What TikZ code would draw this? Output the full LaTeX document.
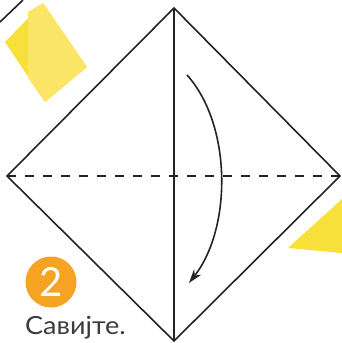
\documentclass[tikz,border=0pt]{standalone}
\usepackage{fontspec}
\setmainfont{Lato}
\newfontfamily\labelfont[FakeStretch=1.08]{Lato}
\usetikzlibrary{arrows.meta}
\definecolor{ink}{HTML}{232323}
\definecolor{paper}{HTML}{F7E03A}
\definecolor{paperlight}{HTML}{FAE566}
\definecolor{badge}{HTML}{F4A323}
\definecolor{txt}{HTML}{3C3C3C}
\tikzset{
  edge/.style={draw=ink, line width=1.6pt, line join=miter},
  crease/.style={draw=ink, line width=1.4pt, dash pattern=on 9pt off 9pt},
  foldarrow/.style={draw=ink, line width=1.6pt, -{Stealth[length=14pt,width=9pt]}},
}
\begin{document}
\begin{tikzpicture}[x=1pt,y=-1pt]
\useasboundingbox (0,0) rectangle (342,343);
% yellow patches
\fill[paper] (43,3) -- (5,42) -- (45,102) -- (87,67) -- cycle;
\fill[paperlight] (28,12) -- (43,3) -- (87,67) -- (45,102) -- (28,78) -- cycle;
\fill[paper] (342,199) -- (288,248) -- (342,253) -- cycle;
% diamond
\coordinate (T) at (174,8);
\coordinate (L) at (7,176);
\coordinate (R) at (340,176);
\coordinate (B) at (174,341);
\draw[edge] (T) -- (R) -- (B) -- (L) -- cycle;
\draw[edge] (T) -- (B);
\draw[crease] (L) -- (R);
% stray edge top-left
\coordinate (s1) at (0,22);
\coordinate (s2) at (23,0);
\draw[edge] (s1) -- (s2);
% fold arrow
\coordinate (a0) at (187,75);
\coordinate (a1) at (189,283);
\draw[foldarrow] (a0) .. controls (232,125) and (232,228) .. (a1);
% badge
\node[circle, fill=badge, minimum size=51pt, inner sep=0pt, text=white,
      font=\fontsize{40}{40}\selectfont] (badge) at (51,282) {2};
\node[anchor=base west, inner sep=0pt, text=txt,
      font=\labelfont\fontsize{25}{25}\selectfont] (label) at (25,334) {Савијте.};
\end{tikzpicture}
\end{document}
